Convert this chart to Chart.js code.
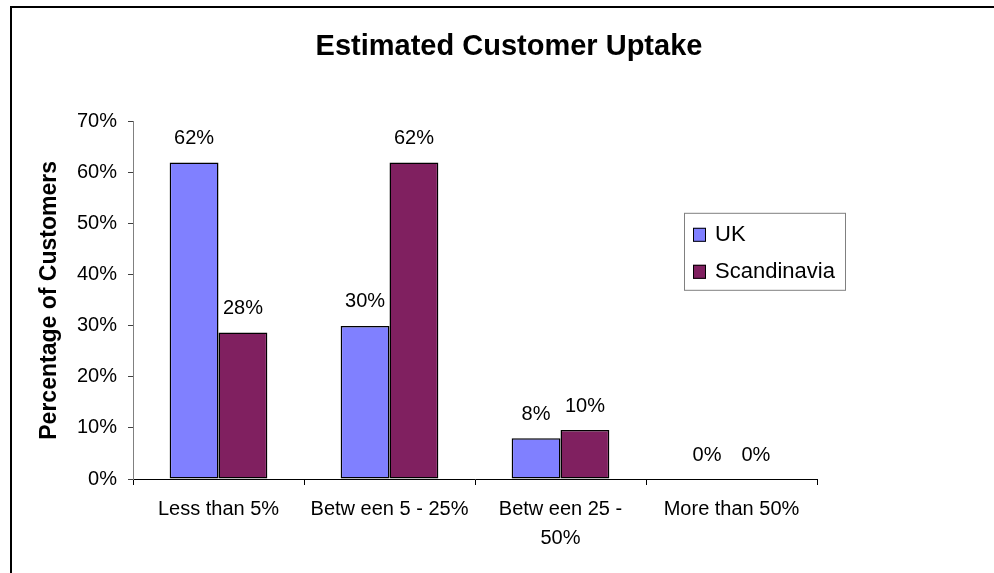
<!DOCTYPE html>
<html>
<head>
<meta charset="utf-8">
<script src="https://cdn.jsdelivr.net/npm/chart.js@4.4.1/dist/chart.umd.min.js"></script>
<style>
  html, body { margin: 0; padding: 0; background: #ffffff; overflow: hidden; }
  canvas { display: block; }
</style>
</head>
<body>
<canvas id="c" width="994" height="573"></canvas>
<script>
const categories = ["Less than 5%", "Betw een 5 - 25%", ["Betw een 25 -", "50%"], "More than 50%"];
const seriesNames = ["UK", "Scandinavia"];
const ukValues = [62, 30, 8, 0];
const scandinaviaValues = [28.7, 62, 9.6, 0];
const ukLabels = ["62%", "30%", "8%", "0%"];
const scandinaviaLabels = ["28%", "62%", "10%", "0%"];
const yTicks = [0, 10, 20, 30, 40, 50, 60, 70];

const FONT = "'Liberation Sans', Arial, Helvetica, sans-serif";
const dataLabelSets = [ukLabels, scandinaviaLabels];

const framePlugin = {
  id: 'frame',
  beforeDraw(chart) {
    const ctx = chart.ctx;
    ctx.save();
    ctx.fillStyle = '#ffffff';
    ctx.fillRect(0, 0, chart.width, chart.height);
    ctx.strokeStyle = '#000000';
    ctx.lineWidth = 2;
    ctx.strokeRect(11, 7, chart.width + 50, chart.height + 50);
    ctx.restore();
  }
};

const dataLabelPlugin = {
  id: 'dataLabels',
  afterDatasetsDraw(chart) {
    const ctx = chart.ctx;
    ctx.save();
    ctx.font = '20px ' + FONT;
    ctx.fillStyle = '#000000';
    ctx.textAlign = 'center';
    ctx.textBaseline = 'middle';
    chart.data.datasets.forEach((ds, di) => {
      const meta = chart.getDatasetMeta(di);
      meta.data.forEach((bar, i) => {
        ctx.fillText(dataLabelSets[di][i], bar.x, bar.y - 24);
      });
    });
    ctx.restore();
  }
};

const legendBoxPlugin = {
  id: 'legendBox',
  afterDraw(chart) {
    const ctx = chart.ctx;
    const a = chart.chartArea;
    const bx = a.right - 133, by = a.top + 91;
    ctx.save();
    ctx.strokeStyle = '#808080';
    ctx.lineWidth = 1;
    ctx.strokeRect(bx + 0.5, by + 0.5, 161, 77);
    ctx.font = '22px ' + FONT;
    ctx.textAlign = 'left';
    ctx.textBaseline = 'middle';
    chart.data.datasets.forEach((ds, i) => {
      const sy = by + 15 + i * 37;
      ctx.fillStyle = ds.backgroundColor;
      ctx.fillRect(bx + 9, sy, 13, 14);
      ctx.strokeStyle = '#000000';
      ctx.strokeRect(bx + 9.5, sy + 0.5, 12, 13);
      ctx.fillStyle = '#000000';
      ctx.fillText(ds.label, bx + 31, sy + 7);
    });
    ctx.restore();
  }
};

new Chart(document.getElementById('c'), {
  type: 'bar',
  data: {
    labels: categories,
    datasets: [
      {
        label: seriesNames[0],
        data: ukValues,
        backgroundColor: '#8080FF',
        borderColor: '#000000',
        borderWidth: 1.5,
        borderSkipped: false
      },
      {
        label: seriesNames[1],
        data: scandinaviaValues,
        backgroundColor: '#802060',
        borderColor: '#000000',
        borderWidth: 1.5,
        borderSkipped: false
      }
    ]
  },
  options: {
    responsive: false,
    animation: false,
    devicePixelRatio: 1,
    layout: { padding: { top: 10, left: 24, right: 0, bottom: 0 } },
    datasets: { bar: { barPercentage: 1, categoryPercentage: 2 / 3.5 } },
    plugins: {
      legend: { display: false },
      tooltip: { enabled: false },
      title: {
        display: true,
        text: 'Estimated Customer Uptake',
        color: '#000000',
        font: { family: FONT, size: 29, weight: 'bold', lineHeight: 1.2 },
        padding: { top: 20, bottom: 57 }
      }
    },
    scales: {
      x: {
        type: 'category',
        offset: true,
        afterFit(scale) { scale.height = 94; },
        border: { display: true, color: '#000000', width: 1 },
        grid: { display: true, offset: true, drawOnChartArea: false, drawTicks: true, tickLength: 6, color: '#000000' },
        ticks: {
          color: '#000000',
          padding: 10,
          maxRotation: 0,
          autoSkip: false,
          font: { family: FONT, size: 20, lineHeight: 1.45 }
        }
      },
      y: {
        min: 0,
        max: 70,
        afterFit(scale) { scale.width = 109; },
        afterBuildTicks(scale) { scale.ticks = yTicks.map(v => ({ value: v })); },
        border: { display: true, color: '#808080', width: 1 },
        grid: { display: true, drawOnChartArea: false, drawTicks: true, tickLength: 5, color: '#404040' },
        ticks: {
          color: '#000000',
          padding: 11,
          font: { family: FONT, size: 20 },
          callback: (v) => v + '%'
        },
        title: {
          display: true,
          text: 'Percentage of Customers',
          color: '#000000',
          font: { family: FONT, size: 23, weight: 'bold', lineHeight: 1.2 },
          padding: { top: 12, bottom: 0 }
        }
      },
      spacer: {
        type: 'linear',
        position: 'right',
        display: true,
        afterFit(scale) { scale.width = 177; },
        border: { display: false },
        grid: { display: false, drawTicks: false },
        ticks: { display: false }
      }
    }
  },
  plugins: [framePlugin, dataLabelPlugin, legendBoxPlugin]
});
</script>
</body>
</html>
